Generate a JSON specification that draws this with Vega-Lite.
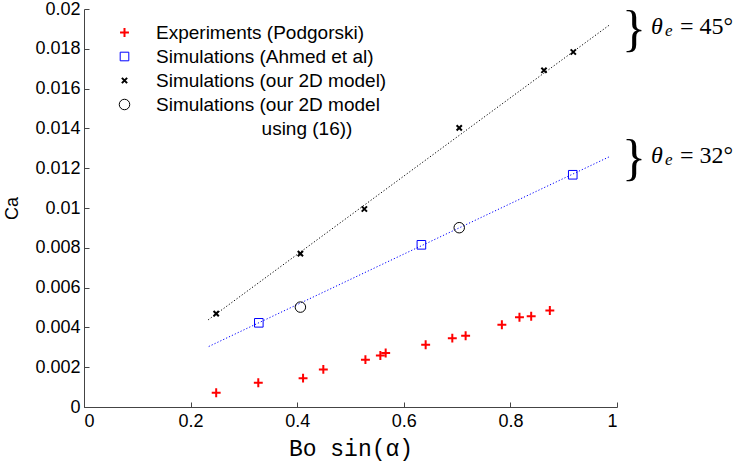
{
  "$schema": "https://vega.github.io/schema/vega-lite/v6.json",
  "width": 533,
  "height": 398,
  "autosize": {"type": "none"},
  "padding": {"left": 84, "top": 9, "right": 122, "bottom": 54},
  "background": "white",
  "config": {
    "view": {"stroke": null},
    "font": "Liberation Sans",
    "axis": {
      "grid": false,
      "domainColor": "#444",
      "tickColor": "#444",
      "tickSize": -5,
      "labelFont": "Liberation Sans",
      "labelFontSize": 18,
      "labelColor": "#000",
      "titleColor": "#000",
      "titleFontWeight": "normal"
    }
  },
  "datasets": {
    "points": [
      {"x": 0.248, "ca": 0.00072, "series": "Experiments (Podgorski)"},
      {"x": 0.327, "ca": 0.00122, "series": "Experiments (Podgorski)"},
      {"x": 0.411, "ca": 0.00145, "series": "Experiments (Podgorski)"},
      {"x": 0.449, "ca": 0.00189, "series": "Experiments (Podgorski)"},
      {"x": 0.528, "ca": 0.00238, "series": "Experiments (Podgorski)"},
      {"x": 0.556, "ca": 0.00259, "series": "Experiments (Podgorski)"},
      {"x": 0.566, "ca": 0.00271, "series": "Experiments (Podgorski)"},
      {"x": 0.641, "ca": 0.00313, "series": "Experiments (Podgorski)"},
      {"x": 0.691, "ca": 0.00346, "series": "Experiments (Podgorski)"},
      {"x": 0.716, "ca": 0.00358, "series": "Experiments (Podgorski)"},
      {"x": 0.784, "ca": 0.00413, "series": "Experiments (Podgorski)"},
      {"x": 0.817, "ca": 0.00451, "series": "Experiments (Podgorski)"},
      {"x": 0.839, "ca": 0.00456, "series": "Experiments (Podgorski)"},
      {"x": 0.874, "ca": 0.00485, "series": "Experiments (Podgorski)"},
      {"x": 0.328, "ca": 0.00423, "series": "Simulations (Ahmed et al)"},
      {"x": 0.633, "ca": 0.00815, "series": "Simulations (Ahmed et al)"},
      {"x": 0.917, "ca": 0.01167, "series": "Simulations (Ahmed et al)"},
      {"x": 0.248, "ca": 0.00469, "series": "Simulations (our 2D model)"},
      {"x": 0.406, "ca": 0.00771, "series": "Simulations (our 2D model)"},
      {"x": 0.526, "ca": 0.00995, "series": "Simulations (our 2D model)"},
      {"x": 0.704, "ca": 0.01403, "series": "Simulations (our 2D model)"},
      {"x": 0.863, "ca": 0.01692, "series": "Simulations (our 2D model)"},
      {"x": 0.918, "ca": 0.01784, "series": "Simulations (our 2D model)"},
      {"x": 0.406, "ca": 0.00502, "series": "Simulations (our 2D model"},
      {"x": 0.704, "ca": 0.00901, "series": "Simulations (our 2D model"}
    ],
    "fits": [
      {"line": "45", "x": 0.233, "ca": 0.00438},
      {"line": "45", "x": 0.985, "ca": 0.01918},
      {"line": "32", "x": 0.234, "ca": 0.00304},
      {"line": "32", "x": 0.986, "ca": 0.01258}
    ],
    "notes": [
      {"x": 1, "ca": 0.01915, "label": "= 45°"},
      {"x": 1, "ca": 0.01265, "label": "= 32°"}
    ]
  },
  "encoding": {
    "x": {
      "field": "x", "type": "quantitative",
      "scale": {"domain": [0, 1], "nice": false, "zero": false},
      "axis": {
        "values": [0, 0.2, 0.4, 0.6, 0.8, 1],
        "format": ".1~f",
        "labelPadding": 10,
        "title": "Bo sin(α)",
        "titleFont": "Liberation Mono",
        "titleFontSize": 23,
        "titlePadding": 7
      }
    },
    "y": {
      "field": "ca", "type": "quantitative",
      "scale": {"domain": [0, 0.02], "nice": false, "zero": false},
      "axis": {
        "values": [0, 0.002, 0.004, 0.006, 0.008, 0.01, 0.012, 0.014, 0.016, 0.018, 0.02],
        "format": ".3~f",
        "labelPadding": 9,
        "title": "Ca",
        "titleFont": "Liberation Sans",
        "titleFontSize": 18,
        "titlePadding": 13
      }
    }
  },
  "layer": [
    {
      "data": {"name": "fits"},
      "transform": [{"filter": "datum.line == '45'"}],
      "mark": {"type": "line", "color": "#000", "strokeWidth": 1, "strokeDash": [1.2, 2]}
    },
    {
      "data": {"name": "fits"},
      "transform": [{"filter": "datum.line == '32'"}],
      "mark": {"type": "line", "color": "#0000ff", "strokeWidth": 1, "strokeDash": [1.2, 2]}
    },
    {
      "data": {"name": "points"},
      "mark": {"type": "point", "filled": false, "opacity": 1, "size": 110},
      "encoding": {
        "color": {
          "field": "series", "type": "nominal",
          "scale": {
            "domain": ["Experiments (Podgorski)", "Simulations (Ahmed et al)", "Simulations (our 2D model)", "Simulations (our 2D model", "using (16))"],
            "range": ["#ff0000", "#0000ff", "#000000", "#000000", "#ffffff"]
          },
          "legend": {
            "orient": "none",
            "legendX": 31,
            "legendY": 14,
            "title": null,
            "padding": 0,
            "rowPadding": 4,
            "symbolSize": 110,
            "labelOffset": 22,
            "labelFont": "Liberation Sans",
            "labelFontSize": 19,
            "labelColor": "#000",
            "labelLimit": 400,
            "labelExpr": "datum.label == 'using (16))' ? '\u200b\u00a0\u00a0\u00a0\u00a0\u00a0\u00a0\u00a0\u00a0\u00a0\u00a0\u00a0\u00a0\u00a0\u00a0\u00a0\u00a0\u00a0\u00a0\u00a0\u00a0using (16))' : datum.label"
          }
        },
        "shape": {
          "field": "series", "type": "nominal",
          "scale": {
            "domain": ["Experiments (Podgorski)", "Simulations (Ahmed et al)", "Simulations (our 2D model)", "Simulations (our 2D model", "using (16))"],
            "range": ["M-0.85,0H0.85M0,-0.85V0.85", "M-0.82,-0.82H0.82V0.82H-0.82Z", "M-0.5,-0.5L0.5,0.5M0.5,-0.5L-0.5,0.5", "circle", "M0,0"]
          }
        },
        "strokeWidth": {
          "field": "series", "type": "nominal",
          "scale": {
            "type": "ordinal",
            "domain": ["Experiments (Podgorski)", "Simulations (Ahmed et al)", "Simulations (our 2D model)", "Simulations (our 2D model", "using (16))"],
            "range": [2, 1, 2, 1, 0]
          }
        }
      }
    },
    {
      "data": {"name": "notes"},
      "mark": {"type": "text", "text": "}", "font": "Liberation Serif", "fontSize": 50, "align": "center", "baseline": "middle", "dx": 17, "dy": 4},
      "encoding": {"x": {"field": "x", "type": "quantitative"}}
    },
    {
      "data": {"name": "notes"},
      "mark": {"type": "text", "text": "θ", "font": "Liberation Serif", "fontStyle": "italic", "fontSize": 24, "align": "left", "baseline": "alphabetic", "dx": 34, "dy": 8},
      "encoding": {"x": {"field": "x", "type": "quantitative"}}
    },
    {
      "data": {"name": "notes"},
      "mark": {"type": "text", "text": "e", "font": "Liberation Serif", "fontStyle": "italic", "fontSize": 17, "align": "left", "baseline": "alphabetic", "dx": 48, "dy": 10},
      "encoding": {"x": {"field": "x", "type": "quantitative"}}
    },
    {
      "data": {"name": "notes"},
      "mark": {"type": "text", "font": "Liberation Serif", "fontSize": 24, "align": "left", "baseline": "alphabetic", "dx": 63, "dy": 8},
      "encoding": {"x": {"field": "x", "type": "quantitative"}, "text": {"field": "label"}}
    }
  ]
}
